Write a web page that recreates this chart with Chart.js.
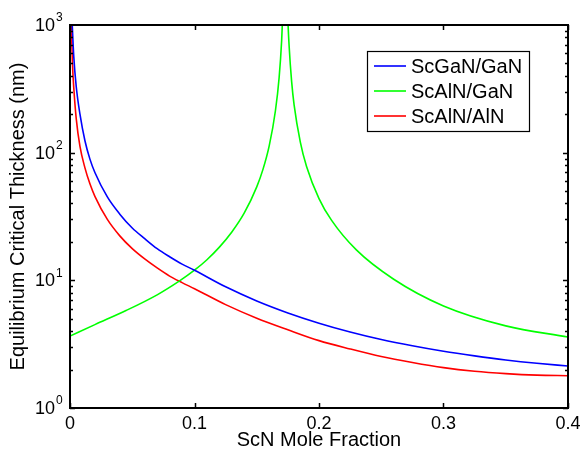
<!DOCTYPE html>
<html>
<head>
<meta charset="utf-8">
<script src="https://cdn.jsdelivr.net/npm/chart.js@4.4.1/dist/chart.umd.min.js"></script>
<style>
  html, body { margin: 0; padding: 0; background: #fff; }
  #wrap { width: 584px; height: 452px; }
</style>
</head>
<body>
<div id="wrap"><canvas id="thicknessChart" width="584" height="452"></canvas></div>
<script>
// critical thickness (nm) vs ScN mole fraction, one pair of arrays per heterostructure
var seriesNames = ['ScGaN/GaN', 'ScAlN/GaN', 'ScAlN/AlN'];
var seriesColors = ['#0000ff', '#00ff00', '#ff0000'];

var scganGanX = [0.0018, 0.003, 0.005, 0.008, 0.012, 0.016, 0.02, 0.03, 0.04, 0.05, 0.06, 0.07, 0.08, 0.09, 0.1, 0.125, 0.15, 0.175, 0.2, 0.225, 0.25, 0.275, 0.3, 0.325, 0.35, 0.375, 0.4];
var scganGanY = [1000, 570, 330, 200, 124, 89, 70, 45, 33, 25.7, 21.2, 17.7, 15.3, 13.4, 12, 8.9, 6.9, 5.56, 4.62, 3.94, 3.44, 3.07, 2.78, 2.56, 2.38, 2.24, 2.13];

var scalnGanX = [0, 0.02, 0.045, 0.07, 0.088, 0.1, 0.11, 0.12, 0.13, 0.14, 0.15, 0.155, 0.16, 0.165, 0.168, 0.17, 0.171, 0.173, 0.175, 0.176, 0.178, 0.18, 0.185, 0.19, 0.2, 0.21, 0.23, 0.26, 0.3, 0.35, 0.4];
var scalnGanY = [3.66, 4.5, 5.8, 7.7, 9.9, 12, 14.5, 18.2, 23.9, 33.7, 54, 74, 113, 213, 390, 756, 1290, 5000, 1100, 684, 362, 237, 121, 78, 43.7, 29.6, 17.3, 10.2, 6.3, 4.4, 3.6];

var scalnAlnX = [0.001, 0.002, 0.003, 0.005, 0.008, 0.012, 0.016, 0.02, 0.03, 0.04, 0.05, 0.06, 0.07, 0.08, 0.09, 0.1, 0.125, 0.15, 0.175, 0.2, 0.225, 0.25, 0.275, 0.3, 0.325, 0.35, 0.375, 0.4];
var scalnAlnY = [1000, 490, 325, 185, 112, 76, 57, 45.5, 30, 22.3, 17.7, 14.7, 12.5, 10.8, 9.6, 8.6, 6.45, 5.05, 4.1, 3.37, 2.9, 2.53, 2.27, 2.07, 1.94, 1.86, 1.81, 1.79];

// axis ticks
var xTicks = [0, 0.1, 0.2, 0.3, 0.4];
var xTickLabels = ['0', '0.1', '0.2', '0.3', '0.4'];
var yExponents = [0, 1, 2, 3];

var xTitle = 'ScN Mole Fraction';
var yTitle = 'Equilibrium Critical Thickness (nm)';

function toPoints(xs, ys) {
    var pts = [];
    for (var i = 0; i < xs.length; i++) {
        pts.push({ x: xs[i], y: ys[i] });
    }
    return pts;
}

var allX = [scganGanX, scalnGanX, scalnAlnX];
var allY = [scganGanY, scalnGanY, scalnAlnY];
var datasets = [];
for (var s = 0; s < seriesNames.length; s++) {
    datasets.push({
        label: seriesNames[s],
        data: toPoints(allX[s], allY[s]),
        borderColor: seriesColors[s],
        borderWidth: 1.6,
        pointRadius: 0,
        fill: false,
        cubicInterpolationMode: 'monotone'
    });
}

var FONT = '"Liberation Sans", Arial, Helvetica, sans-serif';

// box, inward ticks, tick labels, titles and legend (matlab look)
var matlabAxes = {
    id: 'matlabAxes',
    afterDraw: function (chart) {
        var c = chart.ctx;
        var a = chart.chartArea;
        var xs = chart.scales.x;
        var ys = chart.scales.y;
        c.save();

        c.strokeStyle = '#000';
        c.lineWidth = 1.5;
        c.beginPath();
        // x ticks, bottom and top
        xTicks.forEach(function (v) {
            var px = Math.round(xs.getPixelForValue(v)) + 0.5;
            c.moveTo(px, a.bottom); c.lineTo(px, a.bottom - 5);
            c.moveTo(px, a.top); c.lineTo(px, a.top + 5);
        });
        // y ticks, major and minor, left and right
        for (var e = 0; e < 3; e++) {
            for (var m = 1; m <= 9; m++) {
                var py = Math.round(ys.getPixelForValue(m * Math.pow(10, e))) + 0.5;
                var len = m === 1 ? 5 : 3;
                c.moveTo(a.left, py); c.lineTo(a.left + len, py);
                c.moveTo(a.right, py); c.lineTo(a.right - len, py);
            }
        }
        c.stroke();

        c.lineWidth = 2;
        c.strokeRect(a.left, a.top, a.right - a.left, a.bottom - a.top);

        // tick labels
        c.fillStyle = '#000';
        c.font = '18px ' + FONT;
        c.textAlign = 'center';
        c.textBaseline = 'top';
        xTicks.forEach(function (v, i) {
            c.fillText(xTickLabels[i], xs.getPixelForValue(v), a.bottom + 7);
        });
        yExponents.forEach(function (p) {
            var py = ys.getPixelForValue(Math.pow(10, p));
            c.font = '18px ' + FONT;
            c.textAlign = 'right';
            c.textBaseline = 'middle';
            c.fillText('10', a.left - 15, py + 1);
            c.font = '12px ' + FONT;
            c.textAlign = 'left';
            c.fillText(String(p), a.left - 14, py - 7);
        });

        // axis titles
        c.font = '20px ' + FONT;
        c.textAlign = 'center';
        c.textBaseline = 'middle';
        c.fillText(xTitle, (a.left + a.right) / 2, 440);
        c.save();
        c.translate(18, (a.top + a.bottom) / 2);
        c.rotate(-Math.PI / 2);
        c.fillText(yTitle, 0, 0);
        c.restore();

        // legend box
        var lx = 367, ly = 51, lw = 162, lh = 80;
        c.fillStyle = '#fff';
        c.fillRect(lx, ly, lw, lh);
        c.lineWidth = 1.2;
        c.strokeStyle = '#000';
        c.strokeRect(lx + 0.5, ly + 0.5, lw, lh);
        c.font = '20px ' + FONT;
        c.textAlign = 'left';
        c.textBaseline = 'middle';
        chart.data.datasets.forEach(function (ds, i) {
            var ry = ly + 15 + i * 25;
            c.strokeStyle = ds.borderColor;
            c.lineWidth = 1.6;
            c.beginPath();
            c.moveTo(lx + 7, ry); c.lineTo(lx + 39, ry);
            c.stroke();
            c.fillStyle = '#000';
            c.fillText(ds.label, lx + 44, ry + 1);
        });

        c.restore();
    }
};

var ctx = document.getElementById('thicknessChart').getContext('2d');
var chart = new Chart(ctx, {
    type: 'line',
    data: { datasets: datasets },
    options: {
        responsive: false,
        animation: false,
        layout: { padding: { left: 70, right: 16, top: 25, bottom: 44 } },
        plugins: {
            legend: { display: false },
            tooltip: { enabled: false }
        },
        scales: {
            x: { type: 'linear', min: 0, max: 0.4, display: false },
            y: { type: 'logarithmic', min: 1, max: 1000, display: false }
        }
    },
    plugins: [matlabAxes]
});
</script>
</body>
</html>
